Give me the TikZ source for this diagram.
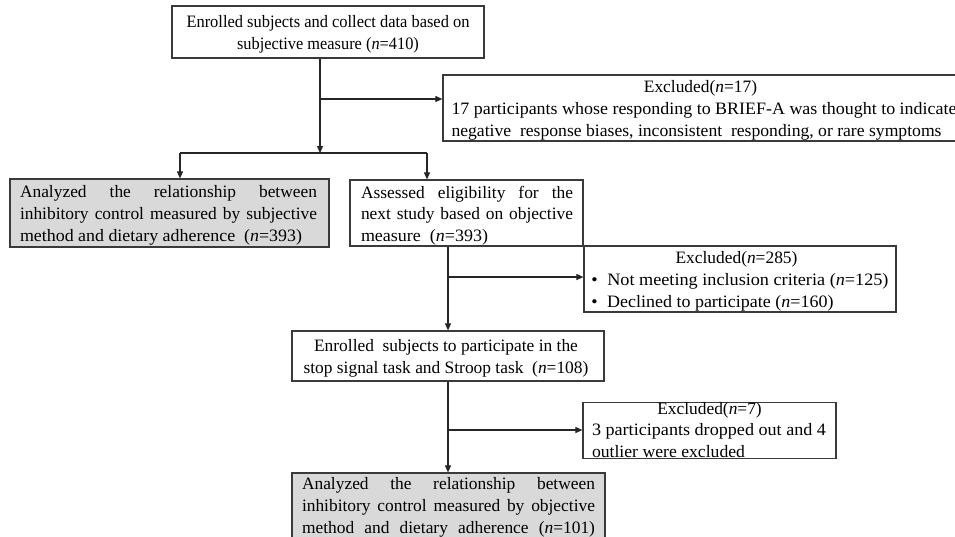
\documentclass[tikz,border=0pt]{standalone}
\usepackage{fontspec}
\usepackage{graphicx}
\setmainfont{Liberation Serif}
\usetikzlibrary{arrows.meta}
\definecolor{edgecol}{HTML}{3A3A3A}
\definecolor{greyfill}{HTML}{D9D9D9}
\newcommand{\nn}{\textit{n}}
\newcommand{\fitw}[2]{\resizebox{#1}{\height}{#2}}
\newcommand{\jline}[2]{\makebox[#1][l]{#2}}
\begin{document}
\begin{tikzpicture}[x=1pt,y=-1pt,
  box/.style={draw=edgecol,line width=1.2pt,inner sep=0pt,fill=white},
  greybox/.style={box,fill=greyfill},
  txt/.style={inner sep=0pt,font=\fontsize{17.4}{21.7}\selectfont},
  conn/.style={draw=black!85,line width=1.1pt},
  arr/.style={conn,-{Triangle[length=7pt,width=6pt]}}]
\useasboundingbox (0,0) rectangle (955,536);
\fill[white] (0,0) rectangle (955,536);

% boxes
\node[box,minimum width=312pt,minimum height=52pt] (top) at (328,32) {};
\node[box,minimum width=522pt,minimum height=66pt] (ex17) at (704,108) {};
\node[greybox,minimum width=319pt,minimum height=68pt] (subj) at (169.5,213) {};
\node[box,minimum width=233pt,minimum height=66pt] (assess) at (466.5,213) {};
\node[box,minimum width=312pt,minimum height=66pt] (ex285) at (740,279) {};
\node[box,minimum width=312pt,minimum height=50pt] (enrol) at (448,356) {};
\node[box,minimum width=253pt,minimum height=56pt] (ex7) at (709.5,430.5) {};
\node[greybox,minimum width=313pt,minimum height=68pt] (obj) at (448.5,507) {};

% texts
\node[txt,align=center,yshift=-2.5pt] (topT) at (top.center)
  {\fitw{283pt}{Enrolled subjects and collect data based on}\\
   \scalebox{0.94}[1]{subjective measure (\nn=410)}};

\node[txt,align=left,yshift=-2.5pt] (ex17T) at (ex17.center)
  {\makebox[502pt][c]{\hspace{-4pt}Excluded(\nn=17)}\\
   \fitw{505pt}{17 participants whose responding to BRIEF-A was thought to indicate}\\
   \fitw{490pt}{negative\ \ response biases, inconsistent\ \ responding, or rare symptoms}};

\node[txt,align=left,yshift=-2.5pt,xshift=-1pt] (subjT) at (subj.center)
  {\jline{297pt}{Analyzed\hfill the\hfill relationship\hfill between}\\
   \jline{297pt}{inhibitory\hfill control\hfill measured\hfill by\hfill subjective}\\
   \jline{297pt}{\fitw{282pt}{method and dietary adherence\ \ (\nn=393)}}};

\node[txt,align=left,yshift=-2.5pt,xshift=0.5pt] (assessT) at (assess.center)
  {\jline{212pt}{Assessed\hfill eligibility\hfill for\hfill the}\\
   \jline{212pt}{next\hfill study\hfill based\hfill on\hfill objective}\\
   \jline{212pt}{\fitw{127pt}{measure\ \ (\nn=393)}}};

\node[txt,align=left,yshift=-2.5pt] (ex285T) at (ex285.center)
  {\makebox[294pt][c]{\hspace{-4pt}Excluded(\nn=285)}\\
   \fitw{297pt}{\textbullet\hspace{9pt}Not meeting inclusion criteria (\nn=125)}\\
   \fitw{242pt}{\textbullet\hspace{9pt}Declined to participate (\nn=160)}};

\node[txt,align=center,yshift=-2.5pt,xshift=-2pt] (enrolT) at (enrol.center)
  {Enrolled\ \ subjects to participate in the\\
   stop signal task and Stroop task\ \ (\nn=108)};

\node[txt,align=left,yshift=0.5pt] (ex7T) at (ex7.center)
  {\makebox[235pt][c]{Excluded(\nn=7)}\\
   \fitw{234pt}{3 participants dropped out and 4}\\
   \fitw{153pt}{outlier were excluded}};

\node[txt,align=left,yshift=-0.5pt] (objT) at (obj.center)
  {\jline{293pt}{Analyzed\hfill the\hfill relationship\hfill between}\\
   \jline{293pt}{inhibitory\hfill control\hfill measured\hfill by\hfill objective}\\
   \jline{293pt}{method\hfill and\hfill dietary\hfill adherence\hfill (\nn=101)}};

% connectors
\coordinate (split) at (320,153);
\coordinate (sl) at (180,153);
\coordinate (sr) at (427,153);
\coordinate (b1) at (320,99);
\coordinate (b2) at (448,277);
\coordinate (b3) at (448,430);

\draw[arr] (top.south -| split) -- (split);
\draw[arr] (b1) -- (ex17.west |- b1);
\draw[conn] (sl) -- (sr);
\draw[arr] (sl) -- (subj.north -| sl);
\draw[arr] (sr) -- (assess.north -| sr);
\draw[arr] (assess.south -| b2) -- (enrol.north);
\draw[arr] (b2) -- (ex285.west |- b2);
\draw[arr] (enrol.south) -- (obj.north -| enrol.south);
\draw[arr] (b3) -- (ex7.west |- b3);
\end{tikzpicture}
\end{document}
